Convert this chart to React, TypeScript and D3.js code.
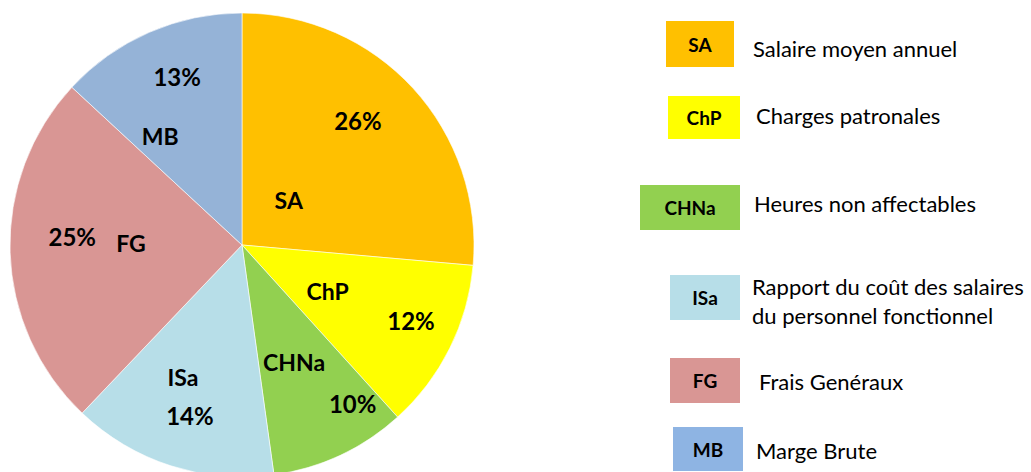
import React from "react";
import * as d3 from "d3";

const codes = ["SA", "ChP", "CHNa", "ISa", "FG", "MB"];
const values = [26.4, 11.9, 9.5, 14.3, 24.8, 13.1];
const percentLabels = ["26%", "12%", "10%", "14%", "25%", "13%"];
const sliceColors = ["#FFC000", "#FFFF00", "#92D050", "#B7DEE8", "#D99694", "#95B3D7"];
const legendColors = ["#FFC000", "#FFFF00", "#92D050", "#B7DEE8", "#D99694", "#8EB4E3"];
const legendTexts: string[][] = [
  ["Salaire moyen annuel"],
  ["Charges patronales"],
  ["Heures non affectables"],
  ["Rapport du coût des salaires", "du personnel fonctionnel"],
  ["Frais Genéraux"],
  ["Marge Brute"],
];

// layout: label polar positions (angle in degrees clockwise from top, radius in px)
const codePolar = [[46, 65], [118, 97], [156, 128], [204, 145], [271, 111], [323, 136]];
const pctPolar = [[43, 170], [114, 185], [145, 193], [197, 178], [273, 170], [339, 181]];
// legend boxes [x, y, w, h] and text [x, baseline]
const legendBoxes = [
  [666, 21, 68, 46],
  [668, 96, 72, 43],
  [640, 185, 100, 45],
  [670, 275, 70, 45],
  [670, 358, 70, 45],
  [673, 427, 70, 44],
];
const legendTextPos = [
  [753, 57],
  [756, 124],
  [754, 212],
  [752, 295],
  [759, 390],
  [756, 459],
];

const W = 1031;
const H = 472;
const cx = 242;
const cy = 245;
const R = 232;
const FONT = "Lato, 'Open Sans', sans-serif";

function polar(angleDeg: number, r: number): [number, number] {
  const a = (angleDeg * Math.PI) / 180;
  return [cx + r * Math.sin(a), cy - r * Math.cos(a)];
}

export default function App() {
  const pie = d3.pie<number>().sort(null).value((d) => d)(values);
  const arc = d3.arc<d3.PieArcDatum<number>>().innerRadius(0).outerRadius(R);

  return (
    <svg
      width={W}
      height={H}
      style={{ position: "absolute", left: 0, top: 0, background: "#fff" }}
      fontFamily={FONT}
    >
      <g transform={`translate(${cx},${cy})`}>
        {pie.map((p, i) => (
          <path key={i} d={arc(p) || ""} fill={sliceColors[i]} stroke="#ffffff" strokeWidth={0.6} />
        ))}
      </g>
      {codes.map((c, i) => {
        const [x, y] = polar(codePolar[i][0], codePolar[i][1]);
        return (
          <text key={"c" + i} x={x} y={y} textAnchor="middle" dominantBaseline="central"
            fontWeight="bold" fontSize={23} fill="#000">
            {c}
          </text>
        );
      })}
      {percentLabels.map((t, i) => {
        const [x, y] = polar(pctPolar[i][0], pctPolar[i][1]);
        return (
          <text key={"p" + i} x={x} y={y} textAnchor="middle" dominantBaseline="central"
            fontWeight="bold" fontSize={24} fill="#000">
            {t}
          </text>
        );
      })}
      {codes.map((c, i) => {
        const [bx, by, bw, bh] = legendBoxes[i];
        const [tx, ty] = legendTextPos[i];
        return (
          <g key={"l" + i}>
            <rect x={bx} y={by} width={bw} height={bh} fill={legendColors[i]} />
            <text x={bx + bw / 2} y={by + bh / 2} textAnchor="middle" dominantBaseline="central"
              fontWeight="bold" fontSize={19} fill="#000">
              {c}
            </text>
            {legendTexts[i].map((line, j) => (
              <text key={j} x={tx} y={ty + j * 29} fontSize={22} fill="#000">
                {line}
              </text>
            ))}
          </g>
        );
      })}
    </svg>
  );
}
